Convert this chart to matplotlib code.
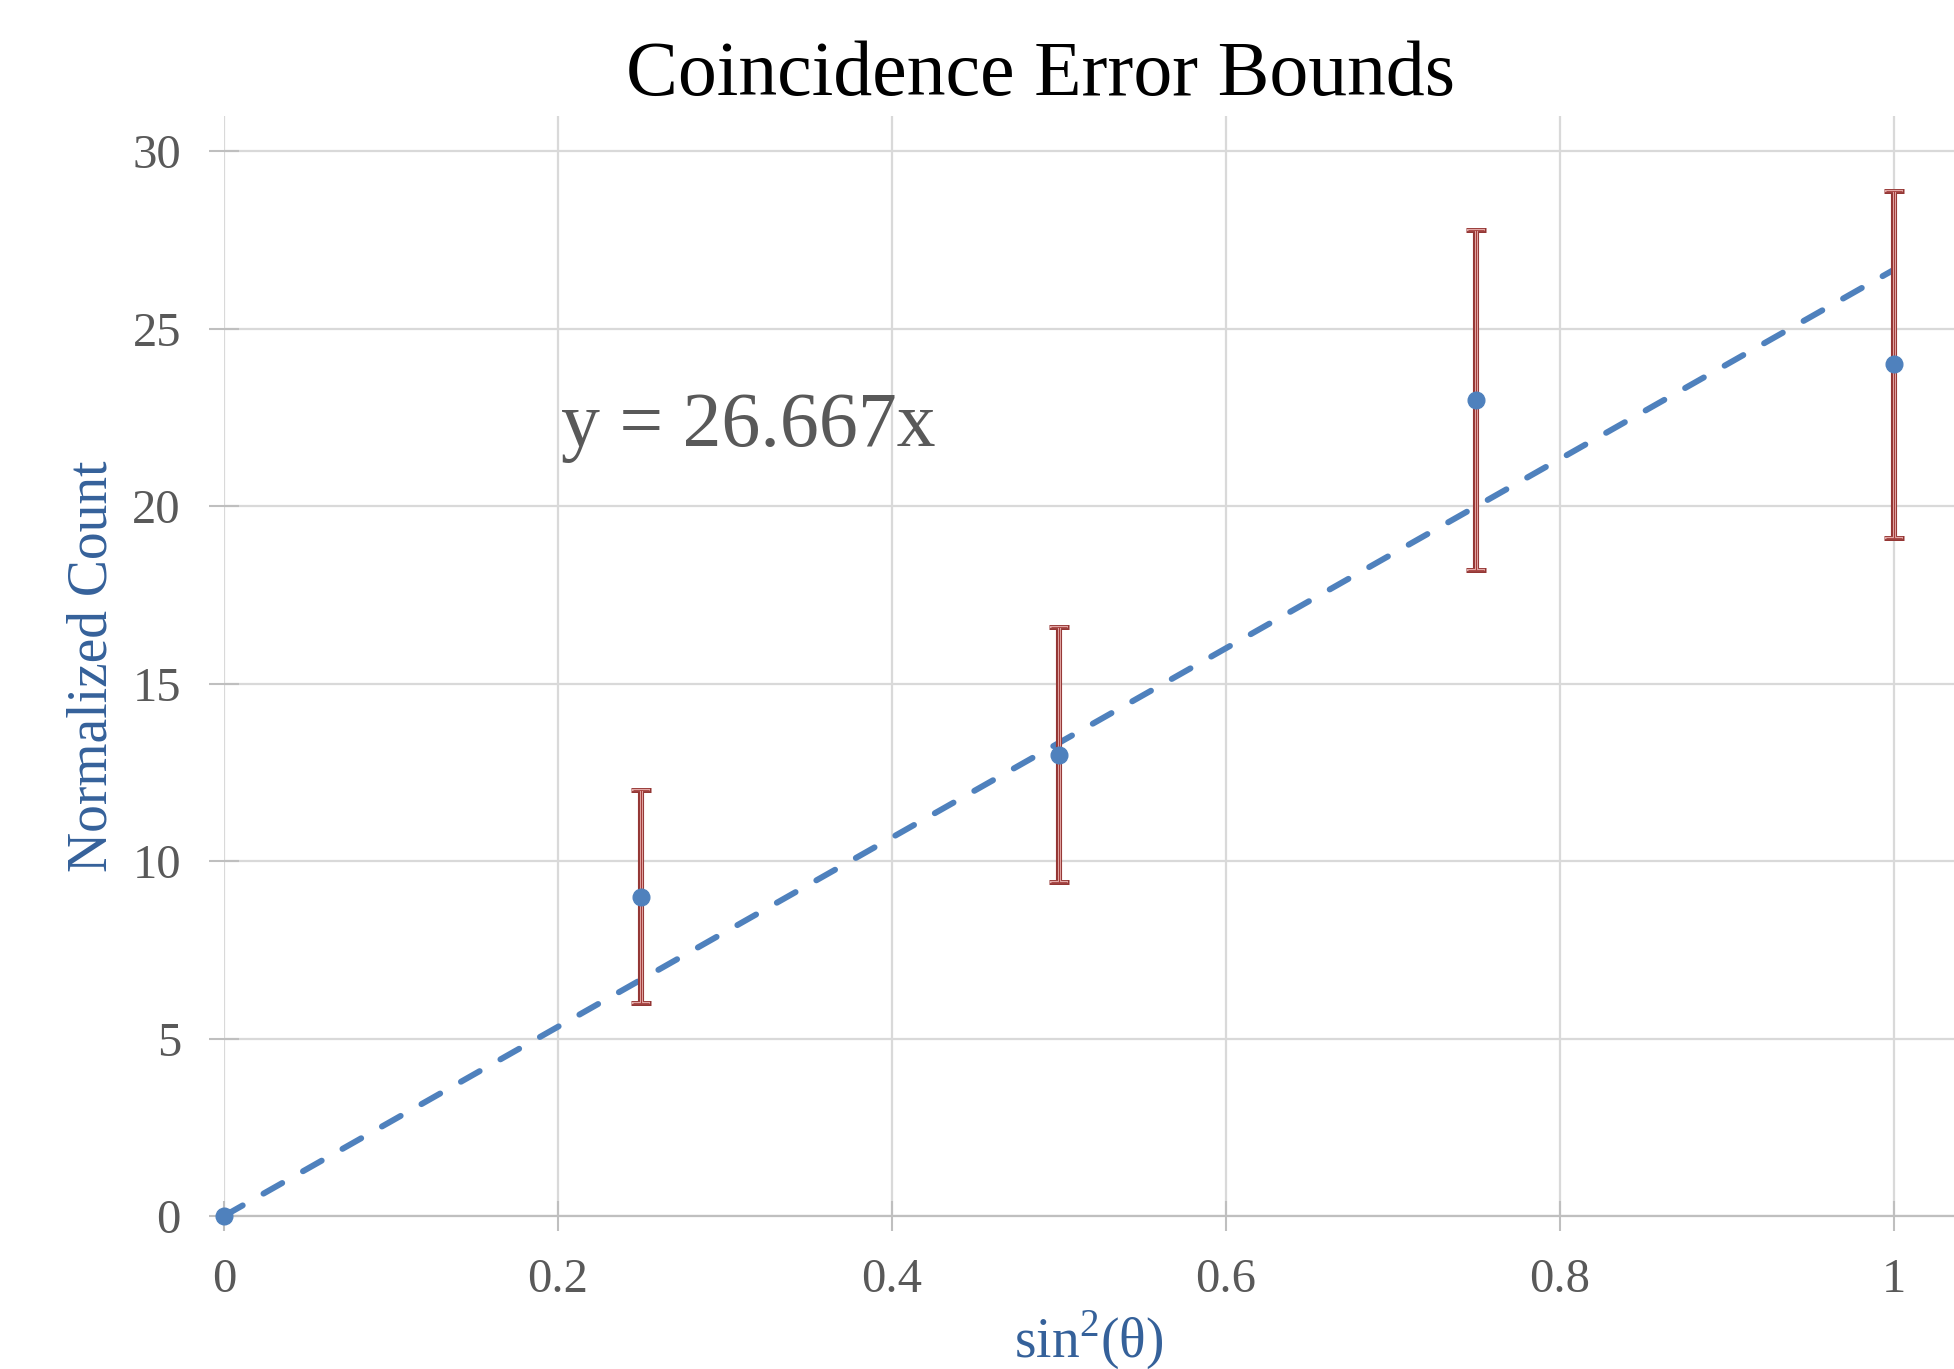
import matplotlib
matplotlib.use("Agg")
import matplotlib.pyplot as plt
import numpy as np

# --- data ---
sin2_theta = [0, 0.25, 0.5, 0.75, 1.0]
norm_count = [0, 9, 13, 23, 24]
count_err = [0, 3.0, 3.6, 4.8, 4.9]

# linear trendline through origin, y = 26.667x
trend_x = [0, 1.0]
trend_y = [0, 26.667]
trend_label = "y = 26.667x"

x_ticks = [0, 0.2, 0.4, 0.6, 0.8, 1.0]
x_tick_labels = ["0", "0.2", "0.4", "0.6", "0.8", "1"]
y_ticks = [0, 5, 10, 15, 20, 25, 30]

plt.rcParams['font.family'] = ['Liberation Serif', 'DejaVu Serif']
plt.rcParams['mathtext.fontset'] = 'custom'
plt.rcParams['mathtext.rm'] = 'Liberation Serif'

fig = plt.figure(figsize=(19.54, 13.69), dpi=100)
ax = fig.add_axes([224 / 1954, 1 - 1216 / 1369, 1 - 224 / 1954, (1216 - 116) / 1369])

blue = '#4F81BD'
grid_c = '#D9D9D9'
axis_c = '#BFBFBF'
txt_c = '#595959'
lab_c = '#35619A'

# trendline
ax.plot(trend_x, trend_y, color=blue, lw=4.3, dashes=(3.6, 4.0),
        dash_capstyle='round', zorder=3)

# error bars (outlined look: dark, light, dark)
xe = np.array(sin2_theta)
ye = np.array(norm_count)
ee = np.array(count_err)
m = ee > 0
for col, lw, cs, ct in [('#943634', 4.4, 13, 3.6), ('#E3A9A7', 2.2, 11.5, 1.6), ('#A33B38', 0.8, 11, 0.6)]:
    ax.errorbar(xe[m], ye[m], yerr=ee[m], fmt='none', ecolor=col,
                elinewidth=lw, capsize=cs / 2 + 0.5, capthick=ct, zorder=4)

# data points
ax.plot(sin2_theta, norm_count, 'o', color=blue, ms=12, mec=blue, zorder=5, clip_on=False)

ax.text(0.202, 21.7, trend_label, fontsize=56, color=txt_c, va='baseline', ha='left')

ax.set_xlim(0, 1.036)
ax.set_ylim(0, 31)
ax.set_xticks(x_ticks)
ax.set_xticklabels(x_tick_labels)
ax.set_yticks(y_ticks)

ax.grid(True, color=grid_c, lw=1.6, zorder=0)
ax.set_axisbelow(True)
for s in ['top', 'right', 'left']:
    ax.spines[s].set_visible(False)
ax.spines['bottom'].set_color(axis_c)
ax.spines['bottom'].set_linewidth(1.6)
ax.spines['bottom'].set_zorder(1)

ax.tick_params(axis='both', direction='inout', length=22, width=1.5, color=axis_c,
               labelsize=35, labelcolor=txt_c)
ax.tick_params(axis='x', pad=19)
ax.tick_params(axis='y', pad=20)

ax.set_xlabel(r"sin$^{2}$(θ)", fontsize=40, color=lab_c, labelpad=5)
ax.set_ylabel("Normalized Count", fontsize=40, color=lab_c, labelpad=10)

fig.text(1040 / 1954, 1 - 95 / 1369, "Coincidence Error Bounds", fontsize=56,
         color='black', ha='center', va='baseline')

fig.savefig("out.png", dpi=100)
